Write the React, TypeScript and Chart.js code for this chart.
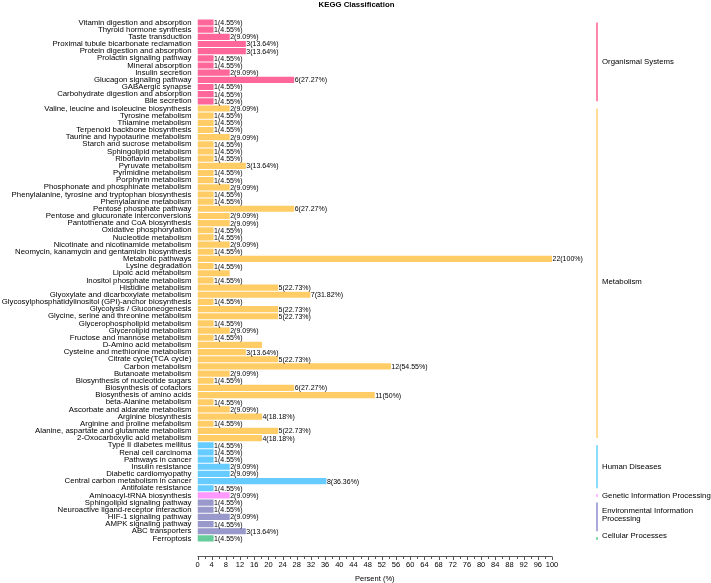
import React, { useEffect, useRef } from 'react';
import { Chart, registerables } from 'chart.js';

Chart.register(...registerables);

const FONT = '"Liberation Sans", Arial, Helvetica, sans-serif';

const chartTitle = 'KEGG Classification';

const categories = [
  'Vitamin digestion and absorption',
  'Thyroid hormone synthesis',
  'Taste transduction',
  'Proximal tubule bicarbonate reclamation',
  'Protein digestion and absorption',
  'Prolactin signaling pathway',
  'Mineral absorption',
  'Insulin secretion',
  'Glucagon signaling pathway',
  'GABAergic synapse',
  'Carbohydrate digestion and absorption',
  'Bile secretion',
  'Valine, leucine and isoleucine biosynthesis',
  'Tyrosine metabolism',
  'Thiamine metabolism',
  'Terpenoid backbone biosynthesis',
  'Taurine and hypotaurine metabolism',
  'Starch and sucrose metabolism',
  'Sphingolipid metabolism',
  'Riboflavin metabolism',
  'Pyruvate metabolism',
  'Pyrimidine metabolism',
  'Porphyrin metabolism',
  'Phosphonate and phosphinate metabolism',
  'Phenylalanine, tyrosine and tryptophan biosynthesis',
  'Phenylalanine metabolism',
  'Pentose phosphate pathway',
  'Pentose and glucuronate interconversions',
  'Pantothenate and CoA biosynthesis',
  'Oxidative phosphorylation',
  'Nucleotide metabolism',
  'Nicotinate and nicotinamide metabolism',
  'Neomycin, kanamycin and gentamicin biosynthesis',
  'Metabolic pathways',
  'Lysine degradation',
  'Lipoic acid metabolism',
  'Inositol phosphate metabolism',
  'Histidine metabolism',
  'Glyoxylate and dicarboxylate metabolism',
  'Glycosylphosphatidylinositol (GPI)-anchor biosynthesis',
  'Glycolysis / Gluconeogenesis',
  'Glycine, serine and threonine metabolism',
  'Glycerophospholipid metabolism',
  'Glycerolipid metabolism',
  'Fructose and mannose metabolism',
  'D-Amino acid metabolism',
  'Cysteine and methionine metabolism',
  'Citrate cycle(TCA cycle)',
  'Carbon metabolism',
  'Butanoate metabolism',
  'Biosynthesis of nucleotide sugars',
  'Biosynthesis of cofactors',
  'Biosynthesis of amino acids',
  'beta-Alanine metabolism',
  'Ascorbate and aldarate metabolism',
  'Arginine biosynthesis',
  'Arginine and proline metabolism',
  'Alanine, aspartate and glutamate metabolism',
  '2-Oxocarboxylic acid metabolism',
  'Type II diabetes mellitus',
  'Renal cell carcinoma',
  'Pathways in cancer',
  'Insulin resistance',
  'Diabetic cardiomyopathy',
  'Central carbon metabolism in cancer',
  'Antifolate resistance',
  'Aminoacyl-tRNA biosynthesis',
  'Sphingolipid signaling pathway',
  'Neuroactive ligand-receptor interaction',
  'HIF-1 signaling pathway',
  'AMPK signaling pathway',
  'ABC transporters',
  'Ferroptosis',
];

const counts = [
  1, 1, 2, 3, 3, 1, 1, 2, 6, 1, 1, 1,
  2, 1, 1, 1, 2, 1, 1, 1, 3, 1, 1, 2, 1, 1, 6, 2, 2, 1, 1, 2, 1, 22, 1, 2, 1, 5, 7, 1,
  5, 5, 1, 2, 1, 4, 3, 5, 12, 2, 1, 6, 11, 1, 2, 4, 1, 5, 4,
  1, 1, 1, 2, 2, 8, 1,
  2,
  1, 1, 2, 1, 3,
  1,
];

const totalGenes = 22;

const groupNames = [
  ['Organismal Systems'],
  ['Metabolism'],
  ['Human Diseases'],
  ['Genetic Information Processing'],
  ['Environmental Information', 'Processing'],
  ['Cellular Processes'],
];
const groupSizes = [12, 47, 7, 1, 5, 1];
const groupColors = ['#FF6699', '#FFCC66', '#66CCFF', '#FF99FF', '#9999CC', '#66CC99'];
const groupLineColors = ['#FF88AA', '#FFDD99', '#88DDFF', '#FFBBFF', '#AAAADD', '#88DDAA'];
const groupLabelDy = [0, 9, 0, 0, -2, -3];

const unlabeled = ['Lipoic acid metabolism', 'D-Amino acid metabolism'];

const barColors: string[] = [];
groupSizes.forEach((n, g) => {
  for (let k = 0; k < n; k++) barColors.push(groupColors[g]);
});

const percents = counts.map((v) => (v / totalGenes) * 100);

const fmtPct = (v: number) => ((v / totalGenes) * 100).toFixed(2).replace(/\.?0+$/, '');

const decorPlugin = {
  id: 'decor',
  afterDatasetsDraw(chart: any) {
    const ctx = chart.ctx as CanvasRenderingContext2D;
    const xs = chart.scales.x;
    const ys = chart.scales.y;
    const area = chart.chartArea;
    ctx.save();

    // title, centred on the whole canvas
    ctx.font = `bold 7.8px ${FONT}`;
    ctx.fillStyle = '#000';
    ctx.textAlign = 'center';
    ctx.textBaseline = 'middle';
    ctx.fillText(chartTitle, chart.width / 2 + 1, 4.5);

    // value labels
    ctx.font = `7px ${FONT}`;
    ctx.fillStyle = '#000';
    ctx.textBaseline = 'middle';
    ctx.textAlign = 'left';
    categories.forEach((c, i) => {
      if (unlabeled.includes(c)) return;
      const v = counts[i];
      ctx.fillText(`${v}(${fmtPct(v)}%)`, xs.getPixelForValue(percents[i]) + 0.5, ys.getPixelForValue(i) + 0.5);
    });

    // group brackets
    let start = 0;
    const lx = area.right + 45;
    groupSizes.forEach((n, g) => {
      let y0 = ys.getPixelForValue(start);
      let y1 = ys.getPixelForValue(start + n - 1);
      if (n === 1) {
        y0 -= 1.5;
        y1 += 1.5;
      }
      ctx.strokeStyle = groupLineColors[g];
      ctx.lineWidth = 2;
      ctx.beginPath();
      ctx.moveTo(lx, y0);
      ctx.lineTo(lx, y1);
      ctx.stroke();
      const mid = (y0 + y1) / 2 + groupLabelDy[g];
      const lines = groupNames[g];
      ctx.font = `7.8px ${FONT}`;
      ctx.fillStyle = '#000';
      ctx.textAlign = 'left';
      ctx.textBaseline = 'middle';
      const lh = 8;
      lines.forEach((t, k) => {
        ctx.fillText(t, lx + 5, mid - ((lines.length - 1) * lh) / 2 + k * lh);
      });
      start += n;
    });

    // x axis line with major/minor ticks
    const ay = Math.round(area.bottom + 14) + 0.5;
    ctx.strokeStyle = '#555';
    ctx.lineWidth = 1;
    ctx.beginPath();
    ctx.moveTo(xs.getPixelForValue(0), ay);
    ctx.lineTo(xs.getPixelForValue(100), ay);
    ctx.stroke();
    for (let v = 0; v <= 100; v += 2) {
      const px = Math.round(xs.getPixelForValue(v)) + 0.5;
      const len = v % 4 === 0 ? 3.5 : 2.5;
      ctx.beginPath();
      ctx.moveTo(px, ay);
      ctx.lineTo(px, ay + len);
      ctx.stroke();
    }
    ctx.restore();
  },
};

export default function App() {
  const ref = useRef<HTMLCanvasElement | null>(null);
  useEffect(() => {
    document.body.style.margin = '0';
    if (!ref.current) return;
    Chart.defaults.font.family = FONT;
    const chart = new Chart(ref.current, {
      type: 'bar',
      data: {
        labels: categories,
        datasets: [
          {
            data: percents,
            backgroundColor: barColors,
            borderWidth: 0,
            barPercentage: 1,
            categoryPercentage: 0.86,
          },
        ],
      },
      options: {
        indexAxis: 'y',
        animation: false,
        responsive: false,
        devicePixelRatio: 1,
        layout: { padding: { left: 0, right: 159, top: 18.9, bottom: 0 } },
        plugins: {
          legend: { display: false },
          tooltip: { enabled: false },
          title: { display: false },
        },
        scales: {
          x: {
            type: 'linear',
            min: 0,
            max: 100,
            grid: { display: false, drawTicks: false },
            border: { display: false },
            ticks: {
              stepSize: 4,
              autoSkip: false,
              maxRotation: 0,
              padding: 18,
              color: '#000',
              font: { size: 7.5, family: FONT },
            },
            title: {
              display: true,
              text: 'Persent (%)',
              color: '#000',
              font: { size: 7.5, family: FONT },
              padding: { top: 0, bottom: 0 },
            },
            afterFit: (s: any) => {
              s.height = 41;
            },
          },
          y: {
            type: 'category',
            grid: { display: false, drawTicks: false },
            border: { display: false },
            ticks: {
              autoSkip: false,
              padding: 6,
              color: '#000',
              font: { size: 7.8, family: FONT },
            },
            afterFit: (s: any) => {
              s.width = 197.5;
            },
          },
        },
      } as any,
      plugins: [decorPlugin],
    });
    return () => chart.destroy();
  }, []);
  return (
    <div style={{ width: 711, height: 583 }}>
      <canvas ref={ref} width={711} height={583} style={{ display: 'block' }} />
    </div>
  );
}
